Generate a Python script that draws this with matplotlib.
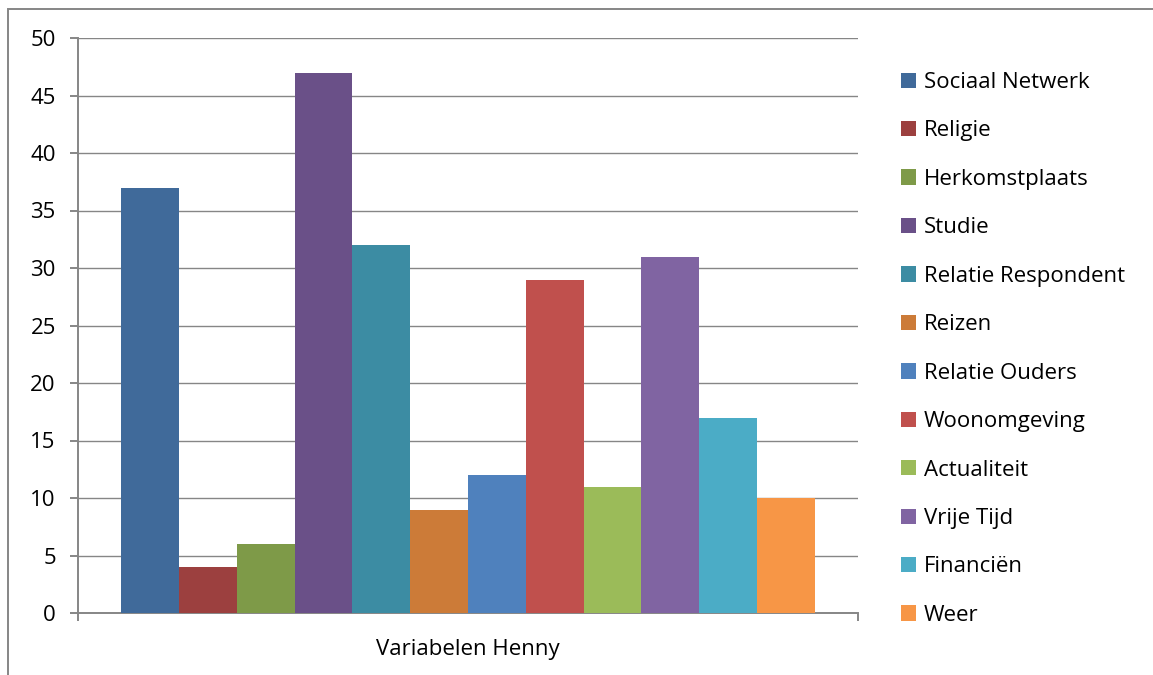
import matplotlib.pyplot as plt
from matplotlib.patches import Rectangle

categories = ["Sociaal Netwerk", "Religie", "Herkomstplaats", "Studie",
              "Relatie Respondent", "Reizen", "Relatie Ouders", "Woonomgeving",
              "Actualiteit", "Vrije Tijd", "Financiën", "Weer"]
values = [37, 4, 6, 47, 32, 9, 12, 29, 11, 31, 17, 10]
colors = ["#406A9A", "#9C403F", "#7E9A48", "#6A5088", "#3C8CA3", "#CC7B38",
          "#4F81BD", "#C0504D", "#9BBB59", "#8064A2", "#4BACC6", "#F79646"]
group_label = "Variabelen Henny"
yticks = [0, 5, 10, 15, 20, 25, 30, 35, 40, 45, 50]

plt.rcParams['font.family'] = ['Open Sans', 'DejaVu Sans']
grey = "#868686"
fs = 16

W, H = 1153, 675
fig = plt.figure(figsize=(W / 100, H / 100), dpi=100)
ax = fig.add_axes([78 / W, 1 - 613 / H, 780 / W, 575 / H])

bars = []
for i, (name, v, c) in enumerate(zip(categories, values, colors)):
    bars.append(ax.bar(i + 0.5, v, width=1.0, color=c, label=name, zorder=3))

x0, x1 = -0.744, 12.744
ax.set_xlim(x0, x1)
ax.set_ylim(0, 50)
ax.set_yticks(yticks)
ax.grid(axis='y', color=grey, linewidth=1.0, zorder=0)
ax.set_axisbelow(True)

for side in ['top', 'right']:
    ax.spines[side].set_visible(False)
for side in ['left', 'bottom']:
    ax.spines[side].set_color(grey)
    ax.spines[side].set_linewidth(1.4)

ax.tick_params(axis='y', direction='out', length=6, width=1.4, color=grey,
               labelsize=fs, pad=10)
# category boundaries as major ticks, the group name as a minor tick label
ax.set_xticks([x0, x1])
ax.set_xticklabels(["", ""])
ax.tick_params(axis='x', which='major', direction='out', length=6, width=1.4, color=grey)
ax.set_xticks([(x0 + x1) / 2], minor=True)
ax.set_xticklabels([group_label], minor=True)
ax.tick_params(axis='x', which='minor', length=0, labelsize=fs, pad=19)

fig.legend(handles=[b[0] for b in bars], labels=categories,
           loc='upper left', bbox_to_anchor=(901 / W, 1 - 72 / H),
           frameon=False, fontsize=fs, handlelength=0.68, handleheight=0.68,
           handletextpad=0.36, labelspacing=1.235, borderpad=0, borderaxespad=0)

# outer chart frame, cut off on the right and bottom
fig.add_artist(Rectangle((8 / W, -0.2), 1.2, 1.2 - 9 / H, transform=fig.transFigure,
                         fill=False, edgecolor=grey, linewidth=1.4))

fig.savefig("out.png", dpi=100)
